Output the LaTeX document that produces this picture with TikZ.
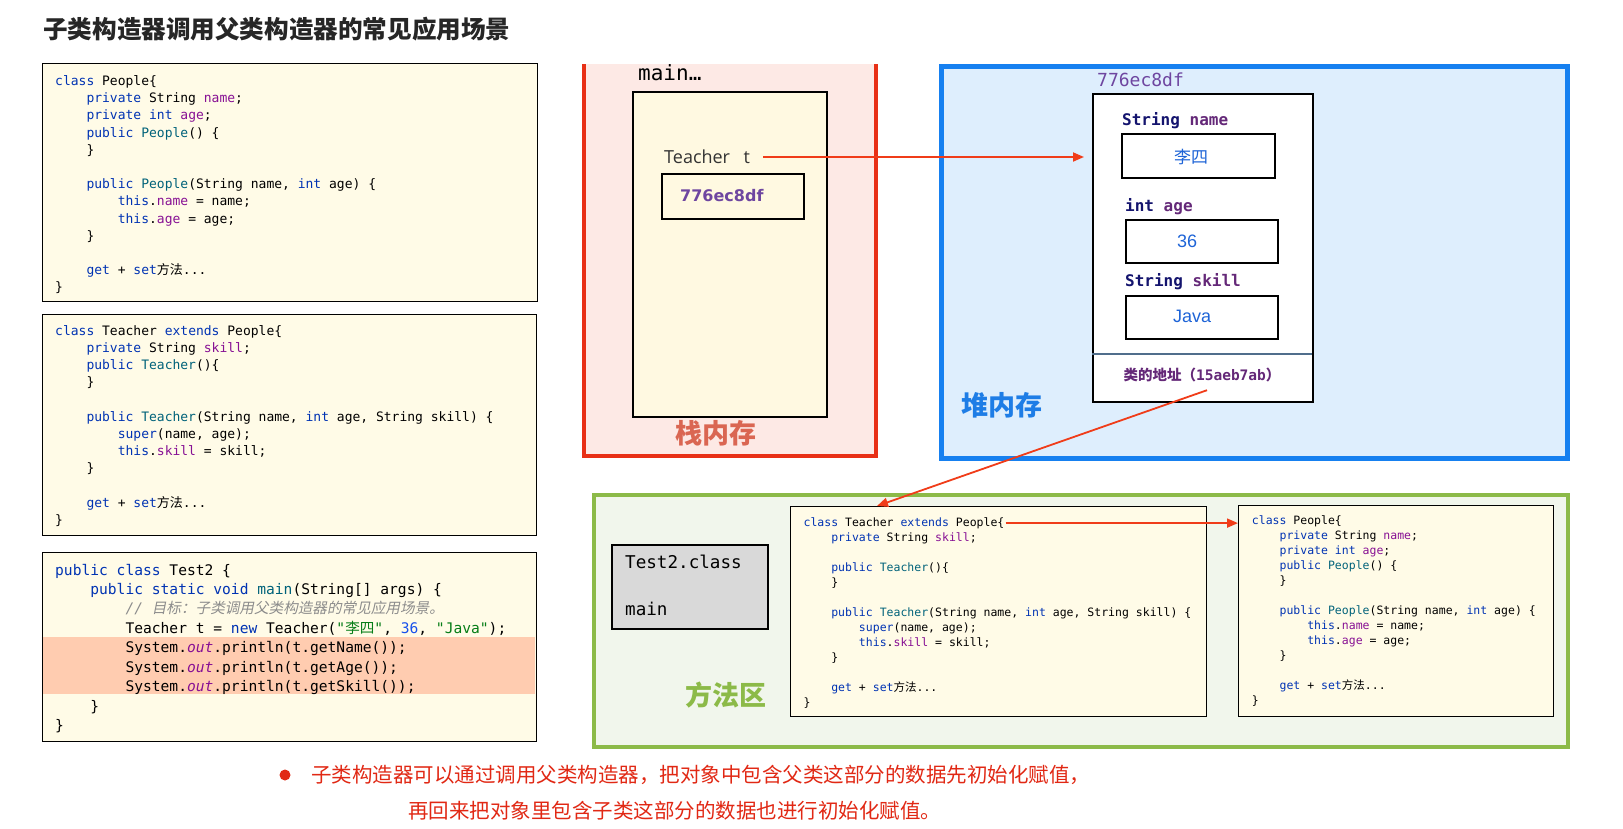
\documentclass[tikz,border=0pt]{standalone}
\usepackage{fontspec}
\setmainfont{Open Sans}
\setmonofont{DejaVu Sans Mono}
\newfontfamily\cjk{Noto Sans CJK SC}
\newfontfamily\cjkit{Noto Sans CJK SC}[FakeSlant=0.2]
\newfontfamily\hexfont{DejaVu Sans}
\newfontfamily\valfont{Liberation Sans}
\usetikzlibrary{arrows.meta}

\definecolor{kwblue}{RGB}{0,51,179}
\definecolor{fnteal}{RGB}{0,98,122}
\definecolor{fdpurple}{RGB}{135,16,148}
\definecolor{strgreen}{RGB}{6,125,23}
\definecolor{numblue}{RGB}{23,80,235}
\definecolor{cmtgray}{RGB}{140,140,140}
\definecolor{codebg}{RGB}{255,251,231}
\definecolor{hlpeach}{RGB}{255,204,176}
\definecolor{titlegray}{RGB}{38,38,38}
\definecolor{stackred}{RGB}{232,48,22}
\definecolor{stackbg}{RGB}{253,233,229}
\definecolor{stacklbl}{RGB}{218,102,82}
\definecolor{framebg}{RGB}{255,249,225}
\definecolor{heapblue}{RGB}{22,128,240}
\definecolor{heapbg}{RGB}{222,238,253}
\definecolor{heaplbl}{RGB}{30,125,230}
\definecolor{areagreen}{RGB}{140,186,72}
\definecolor{areabg}{RGB}{241,246,236}
\definecolor{classgray}{RGB}{217,217,217}
\definecolor{addrpurple}{RGB}{110,70,160}
\definecolor{typenavy}{RGB}{20,20,110}
\definecolor{fieldpurple}{RGB}{100,40,120}
\definecolor{valblue}{RGB}{30,100,215}
\definecolor{sepgray}{RGB}{80,110,140}
\definecolor{arrowred}{RGB}{240,60,25}
\definecolor{notered}{RGB}{225,40,20}

\newcommand\fsz[2]{\fontsize{#1}{#2}\selectfont}
\newcommand\ind{\phantom{0000}}
\newcommand\etc{...}
\newcommand\zh[1]{{\cjk #1}}
\newcommand\jkw[1]{\textcolor{kwblue}{#1}}
\newcommand\jfn[1]{\textcolor{fnteal}{#1}}
\newcommand\jfd[1]{\textcolor{fdpurple}{#1}}
\newcommand\jstr[1]{\textcolor{strgreen}{#1}}
\newcommand\jnum[1]{\textcolor{numblue}{#1}}
\newcommand\jcmt[1]{\textcolor{cmtgray}{\itshape #1}}
\newcommand\jout{\textcolor{fdpurple}{\itshape out}}

% lines of class People, used twice
\def\peoplelines{{\jkw{class} People\{},
    {\ind\jkw{private} String \jfd{name};},
    {\ind\jkw{private} \jkw{int} \jfd{age};},
    {\ind\jkw{public} \jfn{People}() \{},
    {\ind\}},
    {},
    {\ind\jkw{public} \jfn{People}(String name, \jkw{int} age) \{},
    {\ind\ind\jkw{this}.\jfd{name} = name;},
    {\ind\ind\jkw{this}.\jfd{age} = age;},
    {\ind\}},
    {},
    {\ind\jkw{get} + \jkw{set}\zh{方法}\etc},
    {\}}}

\begin{document}
\begin{tikzpicture}[x=1pt,y=-1pt,
        codebox/.style={draw=black,line width=1.2pt,fill=codebg,inner sep=0pt,anchor=north west},
        thickbox/.style={draw=black,line width=2pt,inner sep=0pt,anchor=north west},
        codeA/.style={font=\ttfamily\fsz{13}{17},inner sep=0pt,anchor=base west},
        codeB/.style={font=\ttfamily\fsz{14.6}{19},inner sep=0pt,anchor=base west},
        codeC/.style={font=\ttfamily\fsz{11.5}{15},inner sep=0pt,anchor=base west},
        zone/.style={font=\cjk\bfseries\fsz{27}{30},inner sep=0pt},
        field/.style={font=\ttfamily\bfseries\fsz{16}{18},inner sep=0pt,anchor=west},
        val/.style={font=\valfont\fsz{18}{20},text=valblue,inner sep=0pt},
        note/.style={anchor=west,inner sep=0pt,font=\cjk\fsz{20.5}{22},text=notered},
        ptr/.style={draw=arrowred,line width=1.8pt,-{Triangle[length=11pt,width=9pt]}}]
    \fill[white] (0,0) rectangle (1623,828);
    \useasboundingbox (0,0) rectangle (1623,828);
    % title
        \node[anchor=west,inner sep=0pt,font=\cjk\bfseries\fsz{24.6}{28},text=titlegray] (title) at (43,29) {子类构造器调用父类构造器的常见应用场景};
    % source code on the left
        \node[codebox,minimum width=495pt,minimum height=238pt] (people) at (42,63) {};
        \foreach \txt [count=\i] in \peoplelines
            \node[codeA] (pp\i) at (55,85.5+17.2*\i-17.2) {\txt};
        \node[codebox,minimum width=494pt,minimum height=221pt] (teacher) at (42,314) {};
        \foreach \txt [count=\i] in {{\jkw{class} Teacher \jkw{extends} People\{},
            {\ind\jkw{private} String \jfd{skill};},
            {\ind\jkw{public} \jfn{Teacher}()\{},
            {\ind\}},
            {},
            {\ind\jkw{public} \jfn{Teacher}(String name, \jkw{int} age, String skill) \{},
            {\ind\ind\jkw{super}(name, age);},
            {\ind\ind\jkw{this}.\jfd{skill} = skill;},
            {\ind\}},
            {},
            {\ind\jkw{get} + \jkw{set}\zh{方法}\etc},
            {\}}}
            \node[codeA] (tt\i) at (55,335.2+17.2*\i-17.2) {\txt};
        \node[codebox,minimum width=494pt,minimum height=189pt] (test) at (42,552) {};
        \fill[hlpeach] (43,637) rectangle (535,694);
        \foreach \txt [count=\i] in {{\jkw{public} \jkw{class} Test2 \{},
            {\ind\jkw{public} \jkw{static} \jkw{void} \jfn{main}(String[] args) \{},
            {\ind\ind\jcmt{// {\cjkit 目标：子类调用父类构造器的常见应用场景。}}},
            {\ind\ind Teacher t = \jkw{new} Teacher(\jstr{"\zh{李四}"}, \jnum{36}, \jstr{"Java"});},
            {\ind\ind System.\jout.println(t.getName());},
            {\ind\ind System.\jout.println(t.getAge());},
            {\ind\ind System.\jout.println(t.getSkill());},
            {\ind\}},
            {\}}}
            \node[codeB] (tm\i) at (55,575+19.45*\i-19.45) {\txt};
    % stack
        \fill[stackbg] (584,64) rectangle (876,456);
        \draw[stackred,line width=4pt] (584,64) -- (584,456) -- (876,456) -- (876,64);
        \node[anchor=west,inner sep=0pt,font=\ttfamily\fsz{21}{24}] (mainlbl) at (638,73) {main…};
        \node[thickbox,fill=framebg,minimum width=194pt,minimum height=325pt] (frame) at (632,91) {};
        \node[anchor=west,inner sep=0pt,font=\fsz{18}{20},text=black!80] (tvar) at (664,157) {Teacher\hspace{0.75em}t};
        \node[thickbox,fill=framebg,minimum width=142pt,minimum height=45pt] (tval) at (661,173) {};
        \node[anchor=west,inner sep=0pt,font=\hexfont\bfseries\fsz{16}{18},text=addrpurple] (tvaltxt) at (680,196) {776ec8df};
        \node[zone,text=stacklbl] (stacklbl) at (716,433) {栈内存};
    % heap
        \node[draw=heapblue,line width=4.5pt,fill=heapbg,minimum width=626pt,minimum height=392pt,anchor=north west] (heap) at (939,64) {};
        \node[anchor=west,inner sep=0pt,font=\ttfamily\fsz{18}{20},text=addrpurple] (objaddr) at (1097,80) {776ec8df};
        \node[draw=black,line width=1.8pt,fill=white,minimum width=220pt,minimum height=308pt,anchor=north west] (obj) at (1092,93) {};
        \node[field] (fname) at (1122,121) {\textcolor{typenavy}{String} \textcolor{fieldpurple}{name}};
        \node[thickbox,minimum width=153pt,minimum height=44pt] (namebox) at (1121,133) {};
        \node[val,font=\cjk\fsz{17}{20}] (nameval) at (1191,157) {李四};
        \node[field] (fage) at (1125,207) {\textcolor{typenavy}{int} \textcolor{fieldpurple}{age}};
        \node[thickbox,minimum width=152pt,minimum height=43pt] (agebox) at (1125,219) {};
        \node[val] (ageval) at (1187,241) {36};
        \node[field] (fskill) at (1125,282) {\textcolor{typenavy}{String} \textcolor{fieldpurple}{skill}};
        \node[thickbox,minimum width=152pt,minimum height=43pt] (skillbox) at (1125,295) {};
        \node[val] (skillval) at (1192,316) {Java};
        \draw[sepgray,line width=1.5pt] (1092,354) -- (1312,354);
        \node[inner sep=0pt,font=\cjk\bfseries\fsz{14.5}{16},text=fieldpurple] (addr) at (1202,375) {类的地址（{\ttfamily\bfseries 15aeb7ab}）};
        \node[zone,text=heaplbl] (heaplbl) at (1002,405) {堆内存};
    % method area
        \node[draw=areagreen,line width=4pt,fill=areabg,minimum width=974pt,minimum height=252pt,anchor=north west] (area) at (592,493) {};
        \node[thickbox,fill=classgray,minimum width=156pt,minimum height=84pt] (tcls) at (611,544) {};
        \node[anchor=west,inner sep=0pt,font=\ttfamily\fsz{17.6}{20}] (tclsname) at (625,562) {Test2.class};
        \node[anchor=west,inner sep=0pt,font=\ttfamily\fsz{17.6}{20}] (tclsmain) at (625,609) {main};
        \node[zone,text=areagreen] (arealbl) at (726,695) {方法区};
        \node[codebox,minimum width=416pt,minimum height=210pt] (tcb) at (790,506) {};
        \foreach \txt [count=\i] in {{\jkw{class} Teacher \jkw{extends} People\{},
            {\ind\jkw{private} String \jfd{skill};},
            {},
            {\ind\jkw{public} \jfn{Teacher}()\{},
            {\ind\}},
            {},
            {\ind\jkw{public} \jfn{Teacher}(String name, \jkw{int} age, String skill) \{},
            {\ind\ind\jkw{super}(name, age);},
            {\ind\ind\jkw{this}.\jfd{skill} = skill;},
            {\ind\}},
            {},
            {\ind\jkw{get} + \jkw{set}\zh{方法}\etc},
            {\}}}
            \node[codeC] (tl\i) at (803.4,526.3+15*\i-15) {\txt};
        \node[codebox,minimum width=315pt,minimum height=211pt] (pcb) at (1238,505) {};
        \foreach \txt [count=\i] in \peoplelines
            \node[codeC] (pl\i) at (1251.7,524.7+15*\i-15) {\txt};
    % references
        \draw[ptr,shorten <=13pt,shorten >=8pt] (tvar.east) -- (tvar.east -| obj.west);
        \draw[ptr] ([xshift=5pt,yshift=-8pt]addr.south) -- ([xshift=87pt]tcb.north west);
        \draw[ptr,shorten <=1pt] (tl1.east) -- (tl1.east -| pcb.west);
    % note
        \node[circle,fill=notered,inner sep=0pt,minimum size=11pt] (dot) at (285,775) {};
        \node[note] (note1) at (311,775) {子类构造器可以通过调用父类构造器，把对象中包含父类这部分的数据先初始化赋值，};
        \node[note] (note2) at (408,811) {再回来把对象里包含子类这部分的数据也进行初始化赋值。};
\end{tikzpicture}
\end{document}
